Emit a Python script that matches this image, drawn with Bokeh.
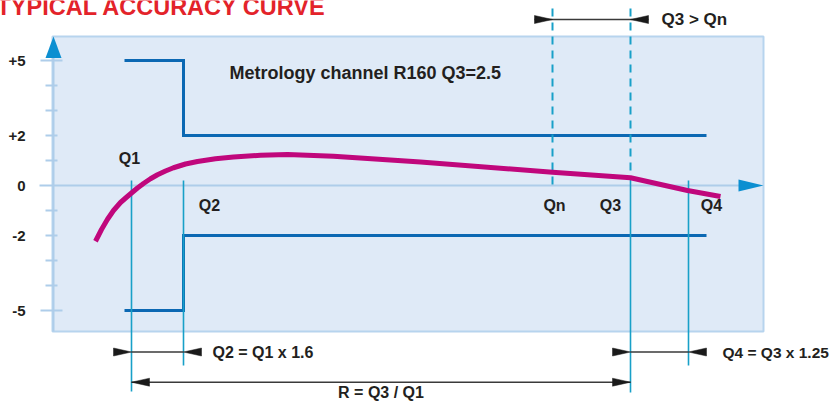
from bokeh.plotting import figure
from bokeh.models import Range1d
from bokeh.embed import file_html
from bokeh.resources import INLINE
from bokeh.core.properties import value

# ---------------- data ----------------
title_text = "TYPICAL ACCURACY CURVE"
note_text = "Metrology channel R160 Q3=2.5"
y_ticks = [5, 2, 0, -2, -5]
y_tick_labels = ["+5", "+2", "0", "-2", "-5"]
y_minor = [4, 3, 1, -1, -3, -4]
q_names = ["Q1", "Q2", "Qn", "Q3", "Q4"]
q_pos = [131, 183, 552, 630, 688]          # flow positions on the (abstract) x axis
curve_x = [95, 101, 107, 113, 120, 126, 131, 137, 143, 150, 157, 165, 173, 185, 197,
           215, 233, 260, 287, 333, 420, 552, 630, 687, 720]
curve_err = [-2.23, -1.76, -1.35, -1.00, -0.68, -0.47, -0.30, -0.10, 0.08, 0.27,
             0.43, 0.58, 0.71, 0.86, 0.96, 1.07, 1.14, 1.21, 1.24, 1.17,
             0.94, 0.53, 0.31, -0.20, -0.44]
mpe_low = 5      # max permissible error between Q1 and Q2 (%)
mpe_high = 2     # max permissible error between Q2 and Q4 (%)
limit_start = 124
limit_end = 706
rel_texts = ["Q2 = Q1 x 1.6", "Q4 = Q3 x 1.25", "R = Q3 / Q1", "Q3 > Qn"]

# ---------------- styles ----------------
FONT = value("Liberation Sans")
TXT = "#231f20"
BG = "#dfeaf7"
BORDER = "#b7d4ee"
AXIS = "#aecdea"
ARROW_BLUE = "#0c8fd1"
LIMIT = "#0b68b3"
QLINE = "#18a0c8"
CURVE = "#c0077c"
RED = "#e3232a"
DARK = "#1a1a1a"

W, H = 834, 401
PX = 25.0  # pixels per % on the y axis
Y0 = 185.0  # pixel row of 0 %


def yv(px):
    return (Y0 - px) / PX


p = figure(width=W, height=H, output_backend="svg", toolbar_location=None,
           x_range=Range1d(0, W), y_range=Range1d(yv(H), yv(0)), min_border=0)
p.axis.visible = False
p.grid.visible = False
p.outline_line_color = None
p.background_fill_color = "white"
p.border_fill_color = "white"

# background panel
p.quad(left=52, right=763, top=yv(36), bottom=yv(331), fill_color=BG,
       line_color=BORDER, line_width=2)

# axes
p.segment(x0=[53], y0=[yv(56)], x1=[53], y1=[yv(331)], line_color=AXIS, line_width=2)
p.segment(x0=[39], y0=[0], x1=[740], y1=[0], line_color=AXIS, line_width=2)
p.patch(x=[45, 53, 61], y=[yv(57.5), yv(36), yv(57.5)], fill_color=ARROW_BLUE, line_color=None)
p.patch(x=[738, 763, 738], y=[yv(179), 0, yv(191)], fill_color=ARROW_BLUE, line_color=None)

# ticks
major_long = [t for t in y_ticks if abs(t) == max(abs(v) for v in y_ticks)]
short = [t for t in y_ticks if t not in major_long and t != 0] + y_minor
p.segment(x0=[40] * len(major_long), y0=major_long, x1=[62] * len(major_long), y1=major_long,
          line_color=AXIS, line_width=2)
p.segment(x0=[45] * len(short), y0=short, x1=[57] * len(short), y1=short,
          line_color=AXIS, line_width=2)
p.text(x=[25] * len(y_ticks), y=y_ticks, text=y_tick_labels, text_font=FONT,
       text_font_size="15px", text_font_style="bold", text_color=TXT,
       text_align="right", text_baseline="middle")

# limit lines (MPE)
q1, q2, qn, q3, q4 = q_pos
p.line(x=[limit_start, q2, q2, limit_end], y=[mpe_low, mpe_low, mpe_high, mpe_high],
       line_color=LIMIT, line_width=3, line_join="miter")
p.line(x=[limit_start, q2, q2, limit_end], y=[-mpe_low, -mpe_low, -mpe_high, -mpe_high],
       line_color=LIMIT, line_width=3, line_join="miter")

# dashed verticals (Qn, Q3)
p.segment(x0=[qn, q3], y0=[yv(8), yv(8)], x1=[qn, q3], y1=[yv(190), yv(177)],
          line_color=QLINE, line_width=2, line_dash="8 6")
# solid verticals
p.segment(x0=[q1, q2, q3, q4], y0=[yv(180), yv(180), yv(177), yv(180)],
          x1=[q1, q2, q3, q4], y1=[yv(391), yv(365), yv(392), yv(365)],
          line_color=QLINE, line_width=1.6)

# accuracy curve
p.line(x=curve_x, y=curve_err, line_color=CURVE, line_width=5, line_cap="butt",
       line_join="round")

# Q labels
lab_dx = [-2, 26, 2, -20, 23]
lab_y = [yv(158), yv(204.5), yv(204.5), yv(204.5), yv(204.5)]
p.text(x=[q + d for q, d in zip(q_pos, lab_dx)], y=lab_y, text=q_names, text_font=FONT,
       text_font_size="16px", text_font_style="bold", text_color=TXT,
       text_align="center", text_baseline="middle")

# dimension arrows
HL = 18             # head length (px)
HW = 4 / PX         # half head width (in %)
heads_x, heads_y = [], []


def head(tip, y, direction):
    # direction +1: points right (base on left); -1: points left
    base = tip - direction * HL
    heads_x.append([base, tip, base])
    heads_y.append([y + HW, y, y - HW])


y_top = yv(19)
y_r1 = yv(351.5)
y_r2 = yv(381.7)
p.segment(x0=[qn - HL, q1, q3, q1], y0=[y_top, y_r1, y_r1, y_r2],
          x1=[q3 + HL, q2, q4, q3], y1=[y_top, y_r1, y_r1, y_r2],
          line_color="#3a3a3a", line_width=1.5)
head(qn, y_top, 1)
head(q3, y_top, -1)
head(q1, y_r1, 1)
head(q2, y_r1, -1)
head(q3, y_r1, 1)
head(q4, y_r1, -1)
head(q1, y_r2, -1)
head(q3, y_r2, 1)
p.patches(xs=heads_x, ys=heads_y, fill_color=DARK, line_color=DARK, line_width=0.5)

# relation texts
p.text(x=[q2 + 29], y=[y_r1], text=[rel_texts[0]], text_font=FONT,
       text_font_size="16px", text_font_style="bold", text_color=TXT,
       text_align="left", text_baseline="middle")
p.text(x=[q4 + 34], y=[y_r1], text=[rel_texts[1]], text_font=FONT,
       text_font_size="15.5px", text_font_style="bold", text_color=TXT,
       text_align="left", text_baseline="middle")
p.text(x=[(q1 + q3) / 2], y=[yv(392)], text=[rel_texts[2]], text_font=FONT,
       text_font_size="16px", text_font_style="bold", text_color=TXT,
       text_align="center", text_baseline="middle")
p.text(x=[q3 + 31], y=[y_top], text=[rel_texts[3]], text_font=FONT,
       text_font_size="17px", text_font_style="bold", text_color=TXT,
       text_align="left", text_baseline="middle")

# note
p.text(x=[229], y=[yv(72.5)], text=[note_text], text_font=FONT, text_font_size="18px",
       text_font_style="bold", text_color=TXT, text_align="left", text_baseline="middle")

# title (partly cut at the top edge, as in the reference)
p.text(x=[-4], y=[yv(6)], text=[title_text], text_font=FONT, text_font_size="23.5px",
       text_font_style="bold", text_color=RED, text_align="left",
       text_baseline="middle")

open("out.html", "w").write(file_html(p, INLINE, title="Typical accuracy curve"))
